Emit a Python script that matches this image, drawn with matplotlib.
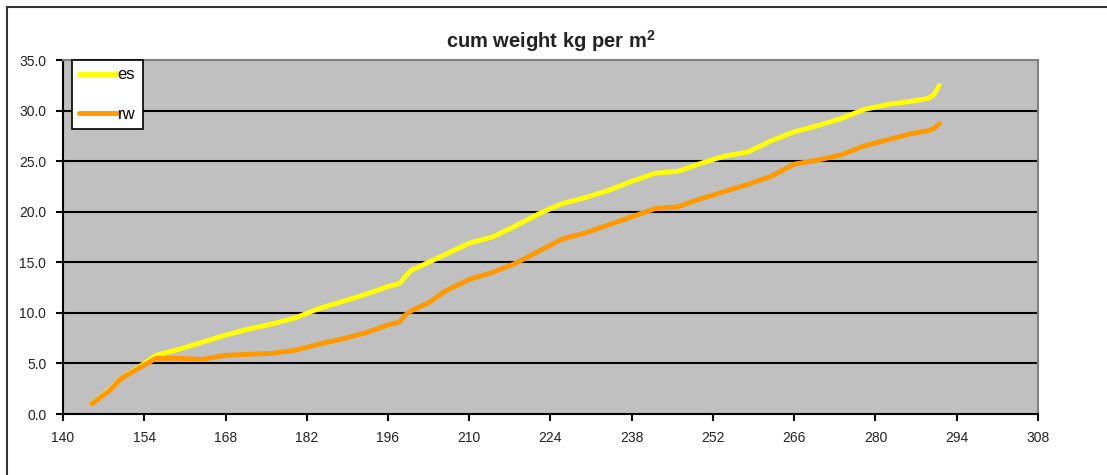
import matplotlib
matplotlib.use("Agg")
from matplotlib import pyplot as plt
from matplotlib.patches import Rectangle

plt.rcParams['font.family'] = ['Liberation Sans', 'DejaVu Sans']
plt.rcParams['mathtext.fontset'] = 'custom'
plt.rcParams['mathtext.rm'] = 'Liberation Sans'
plt.rcParams['mathtext.bf'] = 'Liberation Sans:bold'

# day of year and cumulative weight (kg per m^2)
days = [145, 148, 150, 153, 156, 160, 164, 168, 172, 176, 180, 184, 188, 192,
        196, 198, 199, 200, 203, 206, 210, 214, 218, 222, 226, 230, 234, 238,
        242, 246, 250, 254, 258, 262, 266, 270, 274, 278, 282, 286, 289, 290, 291]
es = [1.0, 2.4, 3.5, 4.6, 5.8, 6.4, 7.1, 7.8, 8.4, 8.9, 9.5, 10.4, 11.1, 11.8,
      12.6, 12.9, 13.6, 14.2, 15.0, 15.8, 16.9, 17.5, 18.6, 19.8, 20.8, 21.4, 22.1, 23.0,
      23.8, 24.0, 24.8, 25.5, 25.9, 27.0, 27.9, 28.5, 29.2, 30.1, 30.6, 30.9, 31.2, 31.5, 32.5]
rw = [1.0, 2.3, 3.5, 4.5, 5.5, 5.5, 5.4, 5.8, 5.9, 6.0, 6.3, 6.9, 7.4, 8.0,
      8.8, 9.1, 9.8, 10.2, 11.0, 12.2, 13.3, 14.0, 14.9, 16.1, 17.3, 17.9, 18.7, 19.5,
      20.3, 20.5, 21.3, 22.0, 22.7, 23.5, 24.7, 25.1, 25.6, 26.5, 27.1, 27.7, 28.0, 28.2, 28.7]

x_ticks = list(range(140, 309, 14))
y_ticks = [i * 5.0 for i in range(8)]

fig = plt.figure(figsize=(11.07, 4.75), dpi=100)
ax = fig.add_axes([63 / 1107, 1 - 414 / 475, 975 / 1107, 354 / 475])

# outer chart frame
fig.add_artist(Rectangle((7 / 1107, -0.5), 2.0, 1.5 - 7 / 475, transform=fig.transFigure,
                         fill=False, edgecolor='#333333', linewidth=1.5))

ax.set_facecolor('#C0C0C0')
ax.plot(days, es, color='#FFFF00', linewidth=3.5, label='es', solid_capstyle='round')
ax.plot(days, rw, color='#FF9900', linewidth=3.5, label='rw', solid_capstyle='round')

ax.set_xlim(140, 308)
ax.set_ylim(0, 35)
ax.set_xticks(x_ticks)
ax.set_yticks(y_ticks)
ax.set_yticklabels([f"{v:.1f}" for v in y_ticks])
for y in y_ticks[1:-1]:
    ax.axhline(y, color='black', linewidth=1.5, zorder=1)

ax.spines['left'].set_color('black')
ax.spines['bottom'].set_color('black')
ax.spines['left'].set_linewidth(1.5)
ax.spines['bottom'].set_linewidth(1.5)
ax.spines['top'].set_color('#808080')
ax.spines['right'].set_color('#808080')
ax.spines['top'].set_linewidth(1.5)
ax.spines['right'].set_linewidth(1.5)
ax.tick_params(direction='out', length=5, width=1.5, colors='black',
               labelsize=10, labelcolor='#222222', pad=7)

ax.set_title('cum weight kg per m$^\\mathbf{2}$', fontsize=14.5, fontweight='bold',
             color='#222222', pad=9)

leg = ax.legend(loc='upper left', bbox_to_anchor=(0.009, 1.0), frameon=True,
                fancybox=False, edgecolor='black', framealpha=1, fontsize=12,
                handlelength=2.3, handletextpad=0.0, labelspacing=1.45,
                borderpad=0.45, borderaxespad=0)
leg.get_frame().set_linewidth(1.2)

fig.savefig('out.png', dpi=100)
